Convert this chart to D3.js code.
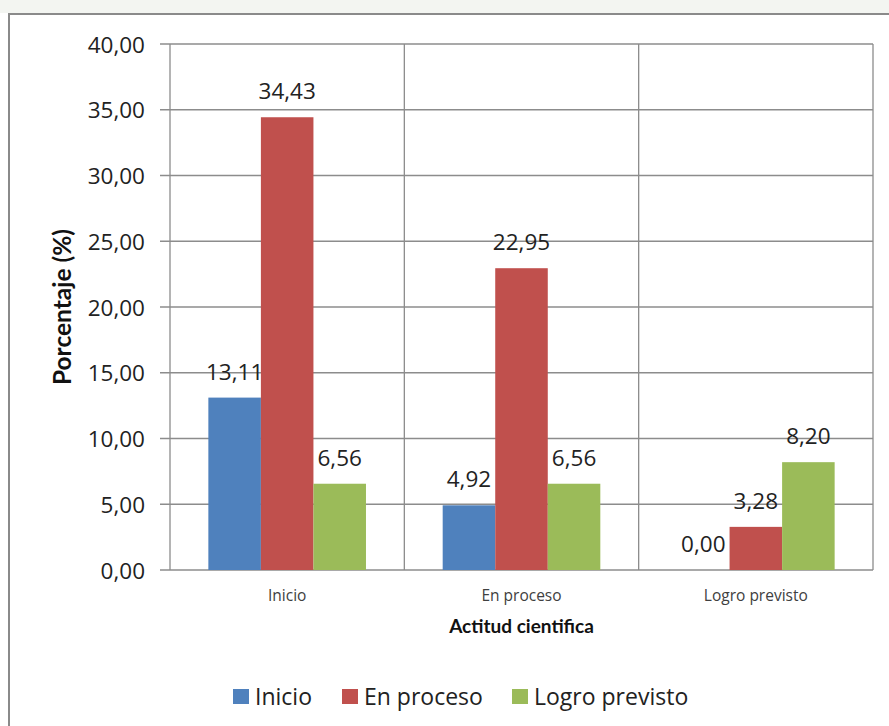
<!DOCTYPE html>
<html><head><meta charset="utf-8">
<script src="https://cdn.jsdelivr.net/npm/d3@7"></script>
<style>body{margin:0;background:#fff}svg{display:block}</style>
</head><body>
<script>
const categories = ["Inicio", "En proceso", "Logro previsto"];
const seriesNames = ["Inicio", "En proceso", "Logro previsto"];
const inicioValues = [13.11, 4.92, 0.00];
const enProcesoValues = [34.43, 22.95, 3.28];
const logroValues = [6.56, 6.56, 8.20];
const yTicks = [0, 5, 10, 15, 20, 25, 30, 35, 40];
const colors = ["#4F81BD", "#C0504D", "#9BBB59"];
const seriesValues = [inicioValues, enProcesoValues, logroValues];

const W = 889, H = 726;
const fmt = v => v.toFixed(2).replace(".", ",");
const numFont = "'Open Sans', sans-serif";
const boldFont = "Lato, 'Open Sans', sans-serif";
const svg = d3.select("body").append("svg").attr("width", W).attr("height", H);
svg.append("rect").attr("width", W).attr("height", H).attr("fill", "#fff");
svg.append("rect").attr("x", 0).attr("y", 0).attr("width", W).attr("height", 13).attr("fill", "#f3f5f1");
svg.append("rect").attr("x", 9).attr("y", 14).attr("width", 900).attr("height", 800)
  .attr("fill", "#fff").attr("stroke", "#8a8a8a").attr("stroke-width", 2);

const L = 170, R = 873, T = 44, B = 570;
const x = d3.scaleBand().domain(categories).range([L, R]).paddingInner(0).paddingOuter(0);
const bw = x.bandwidth();
const barW = bw / (3 + 1.46);
const inner = d3.scaleBand().domain(seriesNames)
  .range([(bw - 3 * barW) / 2, (bw + 3 * barW) / 2]).padding(0);
const y = d3.scaleLinear().domain([0, 40]).range([B, T]);

const g = svg.append("g");
g.selectAll(".hg").data(yTicks).join("line")
  .attr("x1", L - 10).attr("x2", R).attr("y1", d => y(d)).attr("y2", d => y(d))
  .attr("stroke", "#8c8c8c").attr("stroke-width", 1.3);
const seps = categories.map(c => x(c)).concat([R]);
g.selectAll(".vg").data(seps).join("line")
  .attr("x1", d => d).attr("x2", d => d).attr("y1", T).attr("y2", B)
  .attr("stroke", "#8c8c8c").attr("stroke-width", 1.3);

seriesValues.forEach((vals, si) => {
  g.selectAll(".b" + si).data(categories).join("rect")
    .attr("x", c => x(c) + inner(seriesNames[si]))
    .attr("width", inner.bandwidth())
    .attr("y", (c, i) => y(vals[i]))
    .attr("height", (c, i) => B - y(vals[i]))
    .attr("fill", colors[si]);
  g.selectAll(".l" + si).data(categories).join("text")
    .attr("x", c => x(c) + inner(seriesNames[si]) + inner.bandwidth() / 2)
    .attr("y", (c, i) => y(vals[i]) - 18)
    .attr("text-anchor", "middle")
    .attr("font-family", numFont).attr("font-size", 22.5).attr("fill", "#222")
    .text((c, i) => fmt(vals[i]));
});

g.selectAll(".yt").data(yTicks).join("text")
  .attr("x", 145).attr("y", d => y(d) + 8.5)
  .attr("text-anchor", "end").attr("font-family", numFont).attr("font-size", 22.5).attr("fill", "#222")
  .text(d => fmt(d));

g.selectAll(".xt").data(categories).join("text")
  .attr("x", c => x(c) + bw / 2).attr("y", 601)
  .attr("text-anchor", "middle").attr("font-family", numFont).attr("font-size", 15.5).attr("fill", "#404040")
  .text(c => c);

svg.append("text").attr("x", (L + R) / 2).attr("y", 633).attr("text-anchor", "middle")
  .attr("font-family", boldFont).attr("font-size", 19).attr("font-weight", "bold").attr("fill", "#111")
  .text("Actitud cientifica");
svg.append("text").attr("transform", `translate(71,${(T + B) / 2}) rotate(-90)`).attr("text-anchor", "middle")
  .attr("font-family", boldFont).attr("font-size", 24.5).attr("font-weight", "bold").attr("fill", "#111")
  .text("Porcentaje (%)");

const legX = [233, 342, 512];
const lg = svg.append("g");
seriesNames.forEach((s, i) => {
  lg.append("rect").attr("x", legX[i]).attr("y", 689).attr("width", 16).attr("height", 15).attr("fill", colors[i]);
  lg.append("text").attr("x", legX[i] + 22).attr("y", 705).attr("font-family", numFont).attr("font-size", 23).attr("fill", "#222").text(s);
});
</script>
</body></html>
